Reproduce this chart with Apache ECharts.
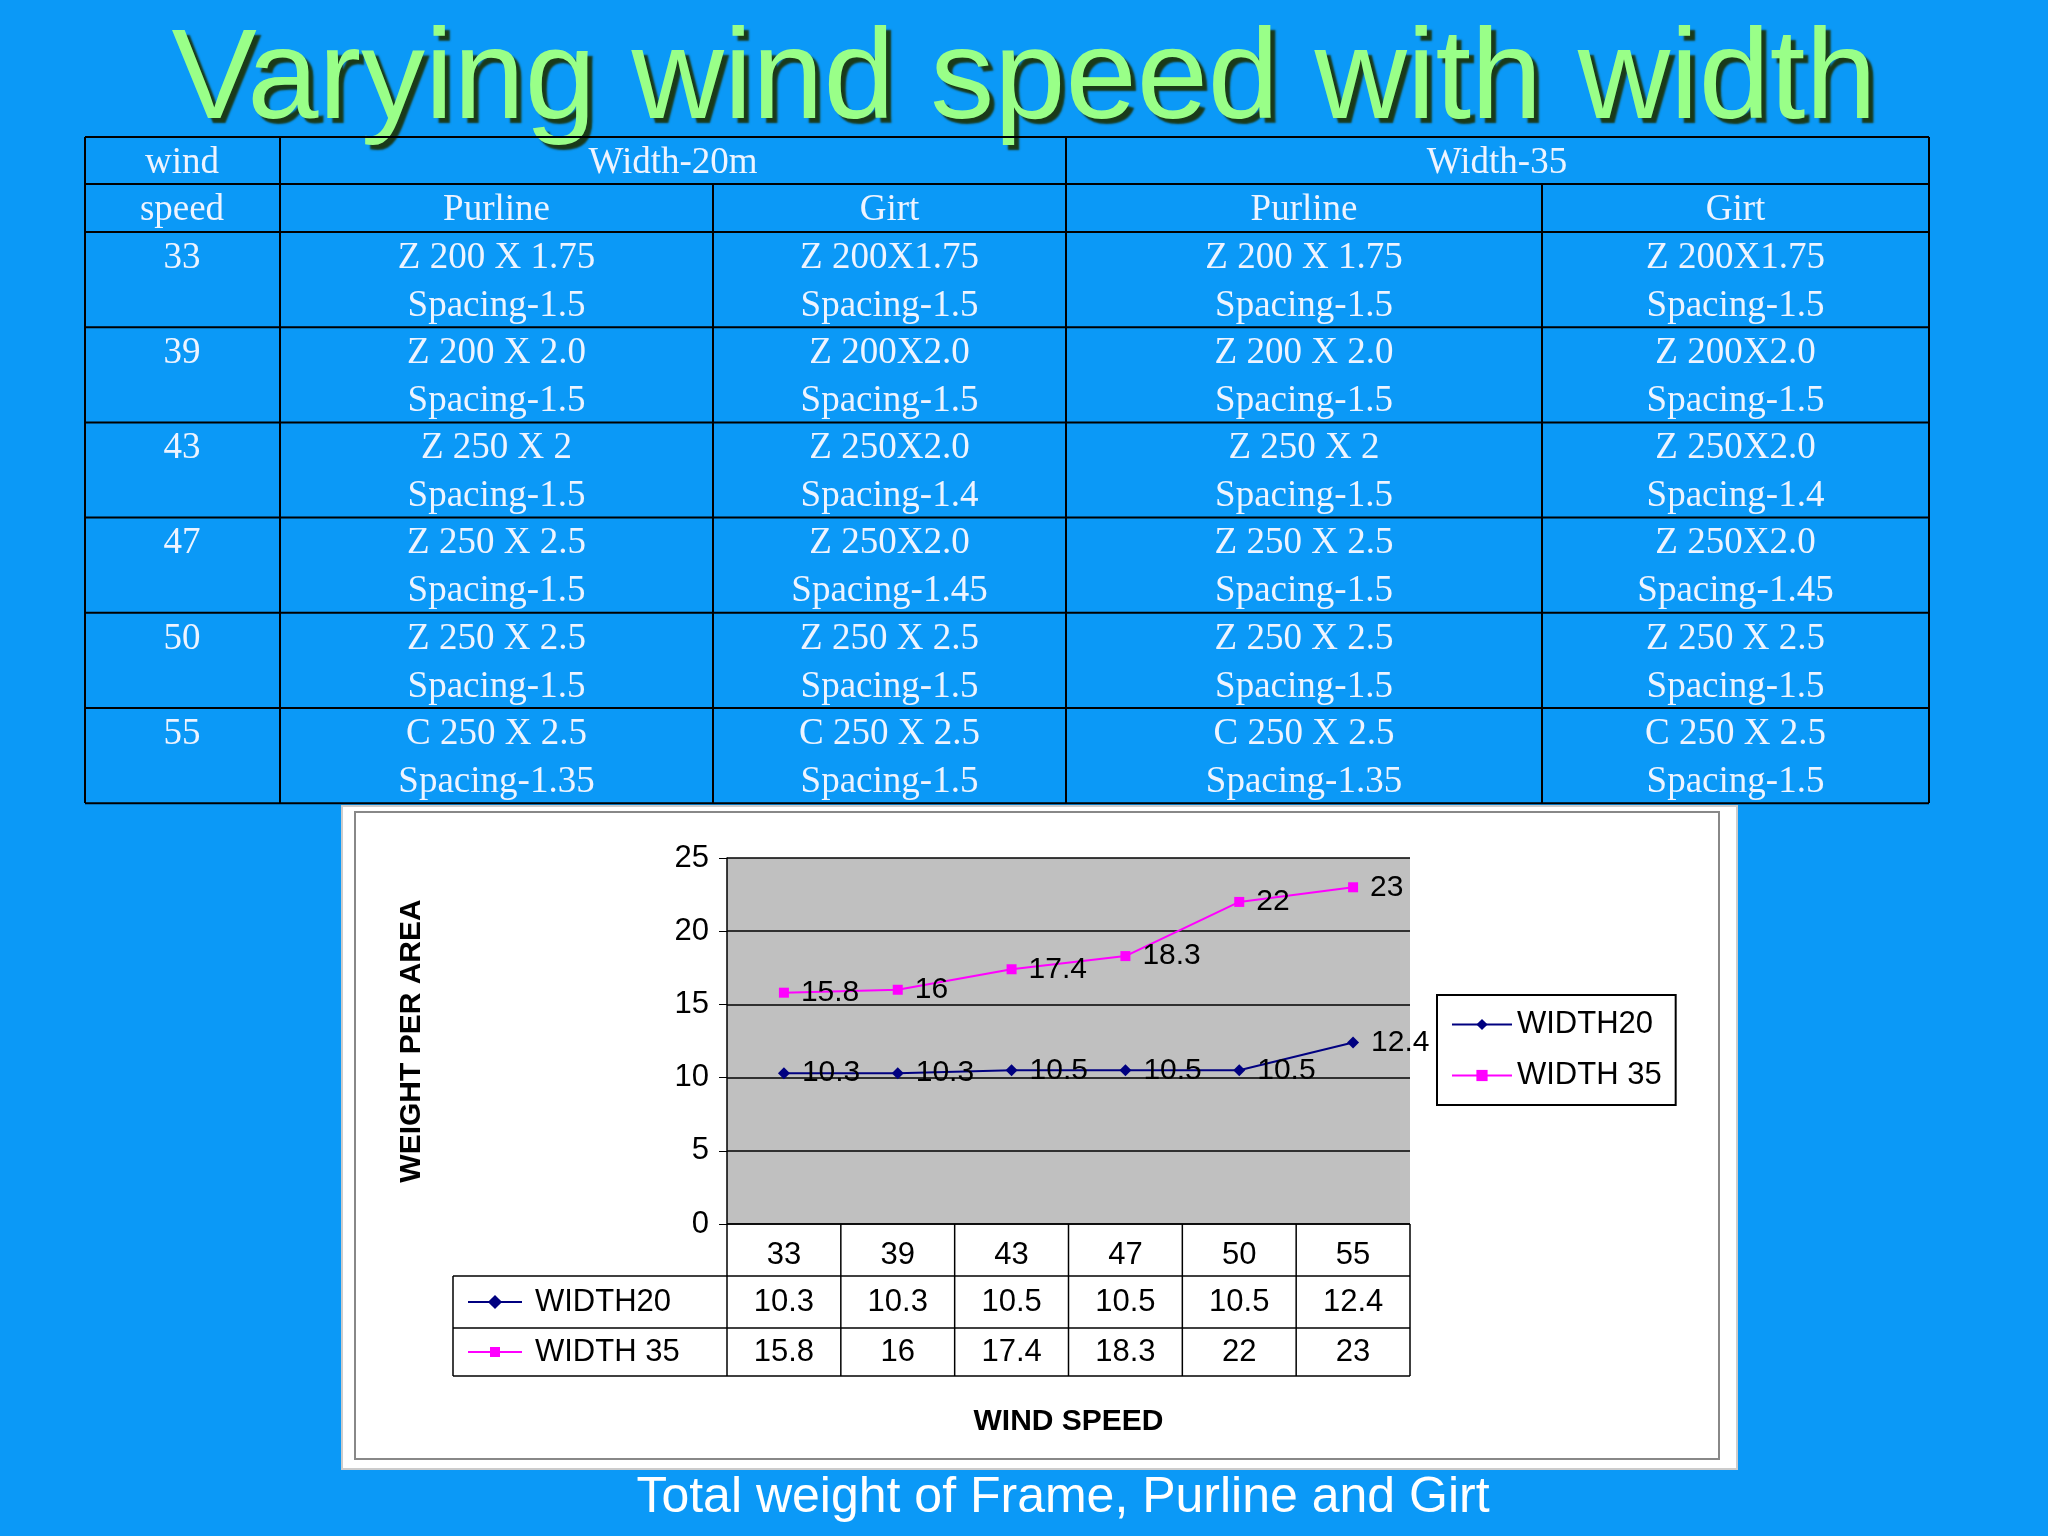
<!DOCTYPE html>
<html><head><meta charset="utf-8">
<script src="https://cdn.jsdelivr.net/npm/echarts@6/dist/echarts.min.js"></script>
<style>html,body{margin:0;padding:0;background:#0b99f7}#c{width:2048px;height:1536px}</style>
</head><body><div id="c"></div>
<script>
const windSpeeds = ['33', '39', '43', '47', '50', '55'];
const width20 = [10.3, 10.3, 10.5, 10.5, 10.5, 12.4];
const width35 = [15.8, 16, 17.4, 18.3, 22, 23];
const yTicks = [0, 5, 10, 15, 20, 25];
const tableRows = [
  ['Z 200 X 1.75', 'Z 200X1.75', 'Spacing-1.5', 'Spacing-1.5'],
  ['Z 200 X 2.0', 'Z 200X2.0', 'Spacing-1.5', 'Spacing-1.5'],
  ['Z 250 X 2', 'Z 250X2.0', 'Spacing-1.5', 'Spacing-1.4'],
  ['Z 250 X 2.5', 'Z 250X2.0', 'Spacing-1.5', 'Spacing-1.45'],
  ['Z 250 X 2.5', 'Z 250 X 2.5', 'Spacing-1.5', 'Spacing-1.5'],
  ['C 250 X 2.5', 'C 250 X 2.5', 'Spacing-1.35', 'Spacing-1.5']
];

const chart = echarts.init(document.getElementById('c'));
const g = [];
const line = (x1, y1, x2, y2, c, w) => g.push({ type: 'line', shape: { x1, y1, x2, y2 }, style: { stroke: c || '#000', lineWidth: w || 2 }, z: 10 });
const txt = (x, y, t, o) => g.push(Object.assign({ type: 'text', x, y, style: Object.assign({ text: t, fill: '#eef4ff', font: '37px "Liberation Serif"', align: 'center', verticalAlign: 'middle' }, o || {}) , z: 11 }));

// top table
const tx = [85, 280, 713, 1066, 1542, 1929];
const ty = [137, 184, 232];
for (let i = 1; i <= 6; i++) ty.push(232 + i * 95.2);
ty.forEach(y => line(85, y, 1929, y));
[85, 280, 1066, 1929].forEach(x => line(x, 137, x, 803));
[713, 1542].forEach(x => line(x, 184, x, 803));
txt(182, 163, 'wind'); txt(182, 210, 'speed');
txt(673, 163, 'Width-20m'); txt(1497, 163, 'Width-35');
['Purline', 'Girt', 'Purline', 'Girt'].forEach((t, i) => txt((tx[i + 1] + tx[i + 2]) / 2, 210, t));
tableRows.forEach((r, i) => {
  const y = ty[i + 2];
  txt(182, y + 26, windSpeeds[i]);
  const cols = [r[0], r[1], r[0], r[1]], sp = [r[2], r[3], r[2], r[3]];
  for (let k = 0; k < 4; k++) {
    const cx = (tx[k + 1] + tx[k + 2]) / 2;
    txt(cx, y + 26, cols[k]);
    txt(cx, y + 74, sp[k]);
  }
});

// chart frame
g.push({ type: 'rect', shape: { x: 342, y: 806, width: 1395, height: 663 }, style: { fill: '#fff', stroke: '#ccc', lineWidth: 2 }, z: -10 });
g.push({ type: 'rect', shape: { x: 355, y: 812, width: 1364, height: 647 }, style: { fill: '#fff', stroke: '#888', lineWidth: 2 }, z: -9 });

// data table under plot
const gl = 727, gr = 1410, gt = 858, gb = 1224, cw = (gr - gl) / 6;
const sans = '31px "Liberation Sans"';
[1276, 1328, 1376].forEach(y => line(453, y, gr, y, '#000', 1.5));
line(gl, gb, gr, gb, '#000', 1.5);
line(453, 1276, 453, 1376, '#000', 1.5);
for (let i = 0; i <= 6; i++) line(gl + i * cw, gb, gl + i * cw, 1376, '#000', 1.5);
[[width20, 1302, '#000080', 'WIDTH20', 'diamond'], [width35, 1352, '#ff00ff', 'WIDTH 35', 'rect']].forEach(([arr, y, c, name, sym]) => {
  arr.forEach((v, i) => txt(gl + (i + 0.5) * cw, y, String(v), { fill: '#000', font: sans }));
  line(468, y, 522, y, c, 2);
  g.push({ type: 'rect', shape: { x: 490, y: y - 5, width: 10, height: 10 }, rotation: sym === 'diamond' ? Math.PI / 4 : 0, originX: 495, originY: y, style: { fill: c }, z: 12 });
  txt(535, y, name, { fill: '#000', font: sans, align: 'left' });
});

const labelOpt = { show: true, position: 'right', color: '#000', fontSize: 30, fontFamily: 'Liberation Sans', distance: 12 };
chart.setOption({
  backgroundColor: '#0b99f7',
  animation: false,
  title: [
    { text: 'Varying wind speed with width', left: 'center', top: 14, textStyle: { color: '#99ff88', fontSize: 128, fontWeight: 'normal', fontFamily: 'Liberation Sans', textShadowColor: '#1a3a1a', textShadowOffsetX: 5, textShadowOffsetY: 5, textShadowBlur: 2 } },
    { text: 'Total weight of Frame, Purline and Girt', left: 1058, textAlign: 'center', top: 1468, textStyle: { color: '#fff', fontSize: 50, fontWeight: 'normal', fontFamily: 'Liberation Sans' } }
  ],
  grid: { left: gl, top: gt, width: gr - gl, height: gb - gt, show: true, backgroundColor: '#c0c0c0', borderWidth: 0 },
  legend: {
    orient: 'vertical', left: 1437, top: 995, padding: [14, 14, 14, 14], itemGap: 20,
    backgroundColor: '#fff', borderColor: '#000', borderWidth: 2, itemWidth: 60, itemHeight: 14,
    textStyle: { color: '#000', fontSize: 31, fontFamily: 'Liberation Sans' }
  },
  xAxis: {
    type: 'category', data: windSpeeds, name: 'WIND SPEED', nameLocation: 'middle', nameGap: 183,
    nameTextStyle: { color: '#000', fontSize: 30, fontWeight: 'bold', fontFamily: 'Liberation Sans' },
    axisLine: { show: false }, axisTick: { show: false },
    axisLabel: { color: '#000', fontSize: 31, fontFamily: 'Liberation Sans', margin: 16 }
  },
  yAxis: {
    type: 'value', min: yTicks[0], max: yTicks[yTicks.length - 1], interval: 5,
    name: 'WEIGHT PER AREA', nameLocation: 'middle', nameGap: 300, nameRotate: 90,
    nameTextStyle: { color: '#000', fontSize: 30, fontWeight: 'bold', fontFamily: 'Liberation Sans' },
    axisLine: { show: true, lineStyle: { color: '#000', width: 1.5 } }, axisTick: { show: true, length: 8, lineStyle: { color: '#000' } },
    axisLabel: { color: '#000', fontSize: 31, fontFamily: 'Liberation Sans', margin: 18 },
    splitLine: { lineStyle: { color: '#000', width: 1.5 } }
  },
  series: [
    { name: 'WIDTH20', type: 'line', data: width20, color: '#000080', symbol: 'diamond', symbolSize: 12, lineStyle: { width: 2 }, label: labelOpt },
    { name: 'WIDTH 35', type: 'line', data: width35, color: '#ff00ff', symbol: 'rect', symbolSize: 10, lineStyle: { width: 2 }, label: labelOpt }
  ],
  graphic: g
});
</script></body></html>
